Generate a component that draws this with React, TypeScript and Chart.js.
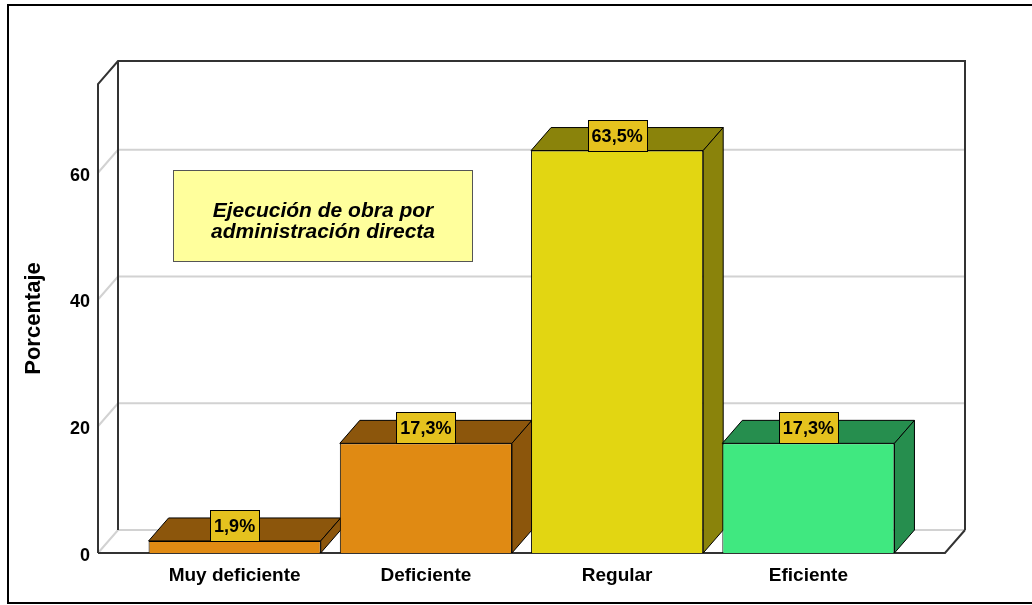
import React, { useEffect, useRef } from "react";
import { Chart, registerables } from "chart.js";

Chart.register(...registerables);

const categories = ["Muy deficiente", "Deficiente", "Regular", "Eficiente"];
const percentages = [1.9, 17.3, 63.5, 17.3];
const valueLabels = ["1,9%", "17,3%", "63,5%", "17,3%"];
const frontColors = ["#E08A13", "#E08A13", "#E2D612", "#40E880"];
const sideColors = ["#8C560C", "#8C560C", "#8A830B", "#268E4E"];
const yTickValues = [0, 20, 40, 60];
const yMax = 74;
const yTitle = "Porcentaje";
const noteLines = ["Ejecución de obra por", "administración directa"];

const DX = 20;
const DY = 23;
const WALL = 41;
const FONT = "'Liberation Sans', Arial, sans-serif";

function line(ctx: CanvasRenderingContext2D, pts: number[][]) {
  ctx.beginPath();
  ctx.moveTo(pts[0][0], pts[0][1]);
  for (let i = 1; i < pts.length; i++) ctx.lineTo(pts[i][0], pts[i][1]);
  ctx.stroke();
}

function poly(ctx: CanvasRenderingContext2D, pts: number[][]) {
  ctx.beginPath();
  ctx.moveTo(pts[0][0], pts[0][1]);
  for (let i = 1; i < pts.length; i++) ctx.lineTo(pts[i][0], pts[i][1]);
  ctx.closePath();
  ctx.fill();
  ctx.stroke();
}

const threeD = {
  id: "threeD",
  beforeDraw(chart: any) {
    const ctx = chart.ctx as CanvasRenderingContext2D;
    ctx.save();
    ctx.fillStyle = "#ffffff";
    ctx.fillRect(0, 0, chart.width, chart.height);
    ctx.fillStyle = "#000000";
    ctx.fillRect(7, 4, chart.width, 2);
    ctx.fillRect(7, 4, 2, 600);
    ctx.fillRect(7, 602, chart.width, 2);
    ctx.restore();
  },
  beforeDatasetsDraw(chart: any) {
    const ctx = chart.ctx as CanvasRenderingContext2D;
    const a = chart.chartArea;
    const ys = chart.scales.y;
    const fl = a.left - WALL;
    const fr = a.right + WALL;
    const fb = ys.getPixelForValue(0);
    const top = ys.getPixelForValue(yMax);
    const bl = fl + DX;
    const br = fr + DX;
    ctx.save();
    ctx.lineCap = "butt";
    // grey grid lines on back wall and left wall
    ctx.strokeStyle = "#d2d2d2";
    ctx.lineWidth = 2;
    yTickValues.forEach((v) => {
      const yp = ys.getPixelForValue(v);
      line(ctx, [[fl, yp], [bl, yp - DY], [br, yp - DY]]);
    });
    // dark frame lines
    ctx.strokeStyle = "#333333";
    ctx.lineWidth = 2;
    line(ctx, [[fl, fb], [fl, top], [bl, top - DY], [br, top - DY], [br, fb - DY]]);
    line(ctx, [[bl, top - DY], [bl, fb - DY]]);
    line(ctx, [[fl, fb], [fr, fb], [br, fb - DY]]);
    // bar side and top faces
    const meta = chart.getDatasetMeta(0);
    ctx.strokeStyle = "#000000";
    ctx.lineWidth = 1;
    ctx.lineJoin = "miter";
    meta.data.forEach((bar: any, i: number) => {
      const p = bar.getProps(["x", "y", "base", "width"], true);
      const l = p.x - p.width / 2;
      const r = p.x + p.width / 2;
      ctx.fillStyle = sideColors[i];
      poly(ctx, [[l, p.y], [l + DX, p.y - DY], [r + DX, p.y - DY], [r, p.y]]);
      poly(ctx, [[r, p.y], [r + DX, p.y - DY], [r + DX, p.base - DY], [r, p.base]]);
    });
    ctx.restore();
  },
  afterDatasetsDraw(chart: any) {
    const ctx = chart.ctx as CanvasRenderingContext2D;
    const meta = chart.getDatasetMeta(0);
    ctx.save();
    ctx.font = `bold 18px ${FONT}`;
    ctx.textAlign = "center";
    ctx.textBaseline = "middle";
    meta.data.forEach((bar: any, i: number) => {
      const p = bar.getProps(["x", "y"], true);
      const txt = valueLabels[i];
      const w = ctx.measureText(txt).width + 8;
      const h = 31;
      const x0 = Math.round(p.x - w / 2) + 0.5;
      const y0 = Math.round(p.y - h) + 0.5;
      ctx.fillStyle = "#E5C21E";
      ctx.strokeStyle = "#000000";
      ctx.lineWidth = 1;
      ctx.fillRect(x0, y0, Math.round(w), h);
      ctx.strokeRect(x0, y0, Math.round(w), h);
      ctx.fillStyle = "#000000";
      ctx.fillText(txt, p.x, y0 + h / 2 + 1);
    });
    // note box
    ctx.fillStyle = "#FFFF9C";
    ctx.strokeStyle = "#555555";
    ctx.lineWidth = 1;
    ctx.fillRect(173.5, 170.5, 299, 91);
    ctx.strokeRect(173.5, 170.5, 299, 91);
    ctx.fillStyle = "#000000";
    ctx.font = `italic bold 21px ${FONT}`;
    ctx.textBaseline = "alphabetic";
    ctx.fillText(noteLines[0], 323, 217);
    ctx.fillText(noteLines[1], 323, 238);
    ctx.restore();
  },
};

export default function App() {
  const ref = useRef<HTMLCanvasElement>(null);
  useEffect(() => {
    if (!ref.current) return;
    const chart = new Chart(ref.current, {
      type: "bar",
      data: {
        labels: categories,
        datasets: [
          {
            data: percentages,
            backgroundColor: frontColors,
            borderColor: "#000000",
            borderWidth: 1,
            barPercentage: 0.9,
            categoryPercentage: 1,
          },
        ],
      },
      options: {
        responsive: false,
        animation: false,
        events: [],
        layout: { padding: { left: 0, right: 128, top: 84, bottom: 0 } },
        plugins: { legend: { display: false }, tooltip: { enabled: false } },
        scales: {
          x: {
            grid: { display: false, drawTicks: true, tickLength: 11 },
            border: { display: false },
            ticks: {
              color: "#000000",
              font: { family: FONT, size: 19, weight: "bold" },
              padding: 0,
              maxRotation: 0,
            },
            afterFit: (s: any) => {
              s.height = 52;
            },
          },
          y: {
            min: 0,
            max: yMax,
            grid: { display: false, drawTicks: true, tickLength: 49 },
            border: { display: false },
            afterBuildTicks: (s: any) => {
              s.ticks = yTickValues.map((v) => ({ value: v }));
            },
            ticks: {
              color: "#000000",
              font: { family: FONT, size: 18, weight: "bold" },
              padding: 0,
              labelOffset: 3,
            },
            title: {
              display: true,
              text: yTitle,
              color: "#000000",
              font: { family: FONT, size: 22, weight: "bold" },
              padding: { top: 21, bottom: 0 },
            },
            afterFit: (s: any) => {
              s.width = 139;
            },
          },
        },
      },
      plugins: [threeD],
    });
    return () => chart.destroy();
  }, []);
  return (
    <div style={{ position: "fixed", left: 0, top: 0, width: 1032, height: 605 }}>
      <canvas ref={ref} width={1032} height={605} style={{ display: "block" }} />
    </div>
  );
}
